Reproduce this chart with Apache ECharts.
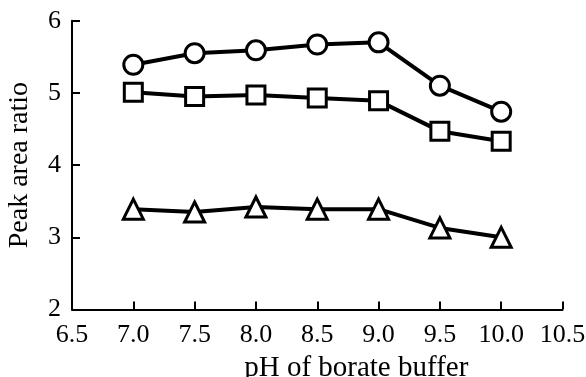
<!DOCTYPE html>
<html>
<head>
<meta charset="utf-8">
<script src="https://cdn.jsdelivr.net/npm/echarts@6/dist/echarts.min.js"></script>
<style>
html,body{margin:0;padding:0;background:#fff;}
#chart{width:586px;height:377px;}
</style>
</head>
<body>
<div id="chart"></div>
<script>
var phValues = [7.0, 7.5, 8.0, 8.5, 9.0, 9.5, 10.0];
var circleSeries = [5.39, 5.55, 5.59, 5.67, 5.70, 5.10, 4.74];
var squareSeries = [5.01, 4.95, 4.97, 4.93, 4.89, 4.47, 4.33];
var triangleSeries = [3.39, 3.35, 3.42, 3.39, 3.39, 3.13, 3.00];
var xAxisTitle = 'pH of borate buffer';
var yAxisTitle = 'Peak area ratio';

function pairs(ys) { return phValues.map(function (x, i) { return [x, ys[i]]; }); }

var chart = echarts.init(document.getElementById('chart'), null, {renderer: 'canvas'});
var font = 'Liberation Serif';
function mk(name, data, symbol, size) {
  return {
    name: name, type: 'line', data: pairs(data), symbol: symbol, symbolSize: size,
    lineStyle: {color: '#000', width: 4},
    itemStyle: {color: '#fff', borderColor: '#000', borderWidth: 3},
    emphasis: {disabled: true}, animation: false, z: 3
  };
}
chart.setOption({
  animation: false,
  backgroundColor: '#fff',
  grid: {left: 72, right: 23.5, top: 20.7, bottom: 67.5, containLabel: false, outerBoundsMode: 'none'},
  xAxis: {
    type: 'value', min: 6.5, max: 10.5, interval: 0.5,
    name: xAxisTitle, nameLocation: 'middle', nameGap: 41,
    nameTextStyle: {fontFamily: font, fontSize: 29, color: '#000', padding: [0, 0, 0, 78]},
    axisLine: {lineStyle: {color: '#000', width: 2}},
    axisTick: {inside: true, length: 8, lineStyle: {color: '#000', width: 2}},
    axisLabel: {fontFamily: font, fontSize: 26, color: '#000', margin: 13,
      formatter: function (v) { return v.toFixed(1); }},
    splitLine: {show: false}
  },
  yAxis: {
    type: 'value', min: 2, max: 6, interval: 1,
    name: yAxisTitle, nameLocation: 'middle', nameGap: 38,
    nameTextStyle: {fontFamily: font, fontSize: 28, color: '#000'},
    axisLine: {show: true, lineStyle: {color: '#000', width: 2}},
    axisTick: {show: true, inside: true, length: 8, lineStyle: {color: '#000', width: 2}},
    axisLabel: {fontFamily: font, fontSize: 26, color: '#000', margin: 11},
    splitLine: {show: false}
  },
  series: [
    mk('circle', circleSeries, 'circle', 19),
    mk('square', squareSeries, 'rect', 18),
    mk('triangle', triangleSeries, 'triangle', 20)
  ]
});
</script>
</body>
</html>
